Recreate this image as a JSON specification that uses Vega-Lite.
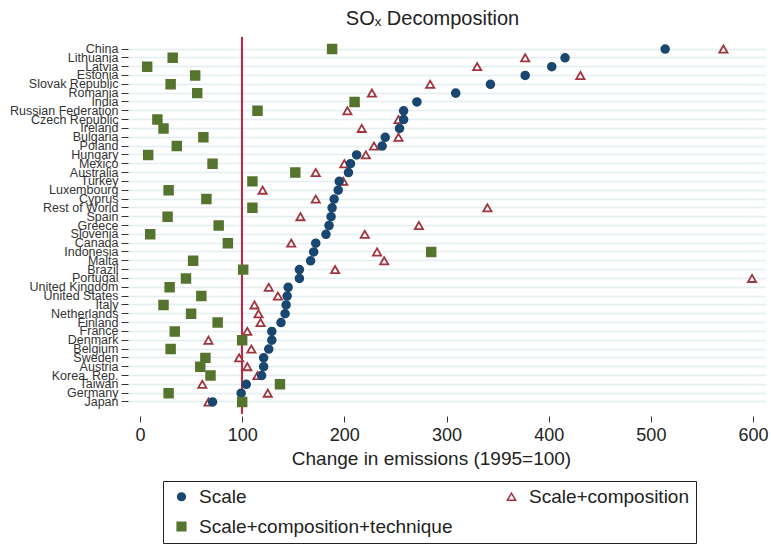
{
  "$schema": "https://vega.github.io/schema/vega-lite/v6.json",
  "autosize": {"type": "none"},
  "width": 637,
  "height": 377,
  "padding": {"left": 128, "top": 37, "right": 6, "bottom": 131},
  "background": "white",
  "config": {
    "font": "Liberation Sans",
    "view": {"stroke": null},
    "legend": {
      "orient": "none",
      "legendX": 35,
      "legendY": 444,
      "direction": "horizontal",
      "columns": 2,
      "columnPadding": 46,
      "rowPadding": 10,
      "padding": 6,
      "strokeColor": "#222",
      "fillColor": "white",
      "labelFont": "Liberation Sans",
      "labelFontSize": 19,
      "labelColor": "#222",
      "symbolStrokeWidth": 1.5,
      "labelOffset": 8,
      "symbolOffset": 3,
      "labelLimit": 400
    }
  },
  "title": {
    "text": "SOₓ Decomposition",
    "fontSize": 20,
    "fontWeight": "normal",
    "font": "Liberation Sans",
    "color": "#222",
    "anchor": "middle",
    "dx": -14,
    "offset": 7
  },
  "data": {
    "values": [
      {"country": "China", "series": "Scale+composition", "value": 571},
      {"country": "Lithuania", "series": "Scale+composition", "value": 377},
      {"country": "Latvia", "series": "Scale+composition", "value": 330},
      {"country": "Estonia", "series": "Scale+composition", "value": 431},
      {"country": "Slovak Republic", "series": "Scale+composition", "value": 284},
      {"country": "Romania", "series": "Scale+composition", "value": 227},
      {"country": "India", "series": "Scale+composition", "value": 210},
      {"country": "Russian Federation", "series": "Scale+composition", "value": 203},
      {"country": "Czech Republic", "series": "Scale+composition", "value": 253},
      {"country": "Ireland", "series": "Scale+composition", "value": 217},
      {"country": "Bulgaria", "series": "Scale+composition", "value": 253},
      {"country": "Poland", "series": "Scale+composition", "value": 229},
      {"country": "Hungary", "series": "Scale+composition", "value": 221},
      {"country": "Mexico", "series": "Scale+composition", "value": 200},
      {"country": "Australia", "series": "Scale+composition", "value": 172},
      {"country": "Turkey", "series": "Scale+composition", "value": 199},
      {"country": "Luxembourg", "series": "Scale+composition", "value": 120},
      {"country": "Cyprus", "series": "Scale+composition", "value": 172},
      {"country": "Rest of World", "series": "Scale+composition", "value": 340},
      {"country": "Spain", "series": "Scale+composition", "value": 157},
      {"country": "Greece", "series": "Scale+composition", "value": 273},
      {"country": "Slovenia", "series": "Scale+composition", "value": 220},
      {"country": "Canada", "series": "Scale+composition", "value": 148},
      {"country": "Indonesia", "series": "Scale+composition", "value": 232},
      {"country": "Malta", "series": "Scale+composition", "value": 239},
      {"country": "Brazil", "series": "Scale+composition", "value": 191},
      {"country": "Portugal", "series": "Scale+composition", "value": 599},
      {"country": "United Kingdom", "series": "Scale+composition", "value": 126},
      {"country": "United States", "series": "Scale+composition", "value": 135},
      {"country": "Italy", "series": "Scale+composition", "value": 112},
      {"country": "Netherlands", "series": "Scale+composition", "value": 116},
      {"country": "Finland", "series": "Scale+composition", "value": 118},
      {"country": "France", "series": "Scale+composition", "value": 105},
      {"country": "Denmark", "series": "Scale+composition", "value": 67},
      {"country": "Belgium", "series": "Scale+composition", "value": 109},
      {"country": "Sweden", "series": "Scale+composition", "value": 97},
      {"country": "Austria", "series": "Scale+composition", "value": 105},
      {"country": "Korea, Rep.", "series": "Scale+composition", "value": 115},
      {"country": "Taiwan", "series": "Scale+composition", "value": 61},
      {"country": "Germany", "series": "Scale+composition", "value": 125},
      {"country": "Japan", "series": "Scale+composition", "value": 67},

      {"country": "China", "series": "Scale", "value": 514},
      {"country": "Lithuania", "series": "Scale", "value": 416},
      {"country": "Latvia", "series": "Scale", "value": 403},
      {"country": "Estonia", "series": "Scale", "value": 377},
      {"country": "Slovak Republic", "series": "Scale", "value": 343},
      {"country": "Romania", "series": "Scale", "value": 309},
      {"country": "India", "series": "Scale", "value": 271},
      {"country": "Russian Federation", "series": "Scale", "value": 258},
      {"country": "Czech Republic", "series": "Scale", "value": 258},
      {"country": "Ireland", "series": "Scale", "value": 254},
      {"country": "Bulgaria", "series": "Scale", "value": 240},
      {"country": "Poland", "series": "Scale", "value": 237},
      {"country": "Hungary", "series": "Scale", "value": 212},
      {"country": "Mexico", "series": "Scale", "value": 206},
      {"country": "Australia", "series": "Scale", "value": 204},
      {"country": "Turkey", "series": "Scale", "value": 195},
      {"country": "Luxembourg", "series": "Scale", "value": 194},
      {"country": "Cyprus", "series": "Scale", "value": 190},
      {"country": "Rest of World", "series": "Scale", "value": 188},
      {"country": "Spain", "series": "Scale", "value": 187},
      {"country": "Greece", "series": "Scale", "value": 185},
      {"country": "Slovenia", "series": "Scale", "value": 182},
      {"country": "Canada", "series": "Scale", "value": 172},
      {"country": "Indonesia", "series": "Scale", "value": 170},
      {"country": "Malta", "series": "Scale", "value": 167},
      {"country": "Brazil", "series": "Scale", "value": 156},
      {"country": "Portugal", "series": "Scale", "value": 156},
      {"country": "United Kingdom", "series": "Scale", "value": 145},
      {"country": "United States", "series": "Scale", "value": 144},
      {"country": "Italy", "series": "Scale", "value": 143},
      {"country": "Netherlands", "series": "Scale", "value": 142},
      {"country": "Finland", "series": "Scale", "value": 138},
      {"country": "France", "series": "Scale", "value": 129},
      {"country": "Denmark", "series": "Scale", "value": 129},
      {"country": "Belgium", "series": "Scale", "value": 126},
      {"country": "Sweden", "series": "Scale", "value": 121},
      {"country": "Austria", "series": "Scale", "value": 121},
      {"country": "Korea, Rep.", "series": "Scale", "value": 119},
      {"country": "Taiwan", "series": "Scale", "value": 104},
      {"country": "Germany", "series": "Scale", "value": 99},
      {"country": "Japan", "series": "Scale", "value": 71},

      {"country": "China", "series": "Scale+composition+technique", "value": 188},
      {"country": "Lithuania", "series": "Scale+composition+technique", "value": 32},
      {"country": "Latvia", "series": "Scale+composition+technique", "value": 7},
      {"country": "Estonia", "series": "Scale+composition+technique", "value": 54},
      {"country": "Slovak Republic", "series": "Scale+composition+technique", "value": 30},
      {"country": "Romania", "series": "Scale+composition+technique", "value": 56},
      {"country": "India", "series": "Scale+composition+technique", "value": 210},
      {"country": "Russian Federation", "series": "Scale+composition+technique", "value": 115},
      {"country": "Czech Republic", "series": "Scale+composition+technique", "value": 17},
      {"country": "Ireland", "series": "Scale+composition+technique", "value": 23},
      {"country": "Bulgaria", "series": "Scale+composition+technique", "value": 62},
      {"country": "Poland", "series": "Scale+composition+technique", "value": 36},
      {"country": "Hungary", "series": "Scale+composition+technique", "value": 8},
      {"country": "Mexico", "series": "Scale+composition+technique", "value": 71},
      {"country": "Australia", "series": "Scale+composition+technique", "value": 152},
      {"country": "Turkey", "series": "Scale+composition+technique", "value": 110},
      {"country": "Luxembourg", "series": "Scale+composition+technique", "value": 28},
      {"country": "Cyprus", "series": "Scale+composition+technique", "value": 65},
      {"country": "Rest of World", "series": "Scale+composition+technique", "value": 110},
      {"country": "Spain", "series": "Scale+composition+technique", "value": 27},
      {"country": "Greece", "series": "Scale+composition+technique", "value": 77},
      {"country": "Slovenia", "series": "Scale+composition+technique", "value": 10},
      {"country": "Canada", "series": "Scale+composition+technique", "value": 86},
      {"country": "Indonesia", "series": "Scale+composition+technique", "value": 285},
      {"country": "Malta", "series": "Scale+composition+technique", "value": 52},
      {"country": "Brazil", "series": "Scale+composition+technique", "value": 101},
      {"country": "Portugal", "series": "Scale+composition+technique", "value": 45},
      {"country": "United Kingdom", "series": "Scale+composition+technique", "value": 29},
      {"country": "United States", "series": "Scale+composition+technique", "value": 60},
      {"country": "Italy", "series": "Scale+composition+technique", "value": 23},
      {"country": "Netherlands", "series": "Scale+composition+technique", "value": 50},
      {"country": "Finland", "series": "Scale+composition+technique", "value": 76},
      {"country": "France", "series": "Scale+composition+technique", "value": 34},
      {"country": "Denmark", "series": "Scale+composition+technique", "value": 100},
      {"country": "Belgium", "series": "Scale+composition+technique", "value": 30},
      {"country": "Sweden", "series": "Scale+composition+technique", "value": 64},
      {"country": "Austria", "series": "Scale+composition+technique", "value": 59},
      {"country": "Korea, Rep.", "series": "Scale+composition+technique", "value": 69},
      {"country": "Taiwan", "series": "Scale+composition+technique", "value": 137},
      {"country": "Germany", "series": "Scale+composition+technique", "value": 28},
      {"country": "Japan", "series": "Scale+composition+technique", "value": 100}
    ]
  },
  "layer": [
    {
      "mark": {"type": "rule", "color": "#d0213f", "strokeWidth": 1.6},
      "encoding": {"x": {"datum": 100, "type": "quantitative"}}
    },
    {
      "mark": {"type": "point", "filled": true, "strokeWidth": 1.8, "opacity": 1},
      "encoding": {
        "y": {
          "field": "country",
          "type": "nominal",
          "sort": null,
          "scale": {"type": "band", "paddingInner": 0, "paddingOuter": 0.86},
          "axis": {
            "title": null,
            "domain": false,
            "grid": true,
            "gridColor": "#e4edf0",
            "gridWidth": 1.6,
            "ticks": true,
            "tickSize": 7,
            "tickColor": "#333",
            "tickWidth": 1,
            "bandPosition": 0.5,
            "labelFont": "Liberation Sans",
            "labelFontSize": 12.5,
            "labelColor": "#333",
            "labelPadding": 3,
            "labelOverlap": false,
            "labelBound": false
          }
        },
        "x": {
          "field": "value",
          "type": "quantitative",
          "scale": {"domain": [-11.75, 611.7], "nice": false, "zero": false},
          "axis": {
            "title": "Change in emissions (1995=100)",
            "titleFont": "Liberation Sans",
            "titleFontSize": 19,
            "titleFontWeight": "normal",
            "titleColor": "#222",
            "titlePadding": 5,
            "titleX": 303,
            "values": [0, 100, 200, 300, 400, 500, 600],
            "domain": false,
            "grid": false,
            "ticks": true,
            "tickSize": 6,
            "tickColor": "#333",
            "offset": 2,
            "labelFont": "Liberation Sans",
            "labelFontSize": 18,
            "labelColor": "#222",
            "labelPadding": 4
          }
        },
        "shape": {
          "field": "series",
          "type": "nominal",
          "title": null,
          "scale": {
            "domain": ["Scale", "Scale+composition", "Scale+composition+technique"],
            "range": ["circle", "triangle-up", "square"]
          }
        },
        "size": {
          "field": "series",
          "type": "nominal",
          "title": null,
          "scale": {
            "domain": ["Scale", "Scale+composition", "Scale+composition+technique"],
            "range": [60, 75, 80]
          }
        },
        "fill": {
          "field": "series",
          "type": "nominal",
          "title": null,
          "scale": {
            "domain": ["Scale", "Scale+composition", "Scale+composition+technique"],
            "range": ["#1a476f", "#ffffff", "#55752f"]
          }
        },
        "stroke": {
          "field": "series",
          "type": "nominal",
          "title": null,
          "scale": {
            "domain": ["Scale", "Scale+composition", "Scale+composition+technique"],
            "range": ["#1a476f", "#a0343f", "#55752f"]
          }
        }
      }
    }
  ]
}
